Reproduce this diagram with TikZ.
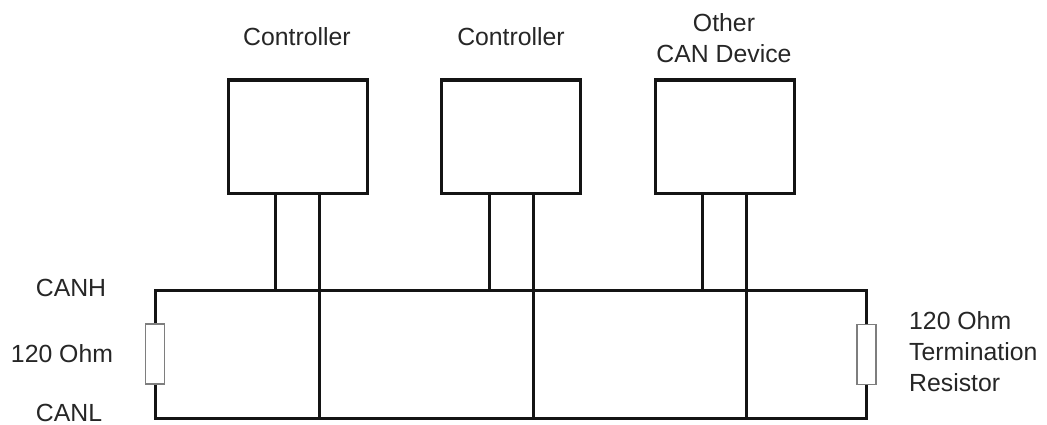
\documentclass[tikz,border=0pt]{standalone}
\usepackage{fontspec}
\setmainfont{Liberation Sans}
\definecolor{ink}{gray}{0.08}
\definecolor{txt}{gray}{0.15}
\tikzset{
  wire/.style={draw=ink,line width=3pt},
  devbox/.style={draw=ink,line width=3.4pt,fill=white,minimum width=139pt,minimum height=113pt,inner sep=0pt,anchor=north west},
  resbox/.style={draw=ink!55,line width=1.8pt,fill=white,minimum width=19pt,minimum height=60pt,inner sep=0pt},
  lbl/.style={font=\fontsize{24.8pt}{31pt}\selectfont,text=txt,inner sep=0pt,align=left}
}
\begin{document}
\begin{tikzpicture}[x=1pt,y=-1pt]
\useasboundingbox (0,0) rectangle (1047,425);
\fill[white] (0,0) rectangle (1047,425);
\node[devbox] (d1) at (226.5,78.5) {};
\node[devbox] (d2) at (439.5,78.5) {};
\node[devbox] (d3) at (653.5,78.5) {};
\coordinate (hl) at (155,290);
\coordinate (hr) at (866,290);
\coordinate (ll) at (155,418.5);
\coordinate (lr) at (866,418.5);
\draw[wire] (hl) -- (hr) -- (lr) -- (ll) -- cycle;
\coordinate (h1a) at (275,290); \coordinate (l1) at (319,418.5);
\coordinate (h2a) at (489,290); \coordinate (l2) at (533,418.5);
\coordinate (h3a) at (702,290); \coordinate (l3) at (746,418.5);
\draw[wire] (h1a) -- (h1a |- d1.south);
\draw[wire] (l1) -- (l1 |- d1.south);
\draw[wire] (h2a) -- (h2a |- d2.south);
\draw[wire] (l2) -- (l2 |- d2.south);
\draw[wire] (h3a) -- (h3a |- d3.south);
\draw[wire] (l3) -- (l3 |- d3.south);
\node[resbox] (r1) at (155,354) {};
\node[resbox] (r2) at (866.5,354.5) {};
\node[lbl] (t1) at (297,37) {Controller};
\node[lbl] (t2) at (511,37) {Controller};
\node[lbl,align=center] (t3) at (724,38) {Other\\CAN Device};
\node[lbl] (t4) at (71,288) {CANH};
\node[lbl] (t5) at (62,354) {120 Ohm};
\node[lbl] (t6) at (69,413) {CANL};
\node[lbl,anchor=west] (t7) at (909,352) {120 Ohm\\Termination\\Resistor};
\end{tikzpicture}
\end{document}
